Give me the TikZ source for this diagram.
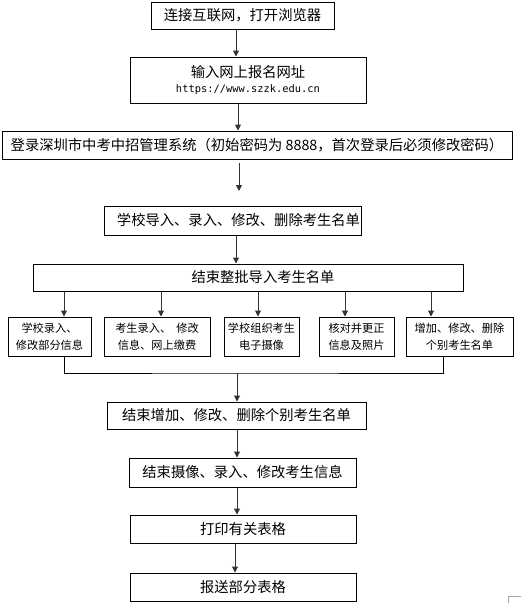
\documentclass[tikz,border=0pt]{standalone}
\usepackage{fontspec}
\setmainfont{Noto Sans CJK SC}
\newfontfamily\urlfont{DejaVu Sans Mono}
\usetikzlibrary{arrows.meta}
\tikzset{
  box/.style={draw=black, line width=1pt, inner sep=0pt, align=center, font=\fontsize{14.3}{17}\selectfont},
  sbox/.style={draw=black, line width=1pt, inner sep=0pt, align=center, font=\fontsize{11.2}{17}\selectfont},
  arr/.style={draw=black!80, line width=1pt, -{Triangle[length=6pt,width=6pt]}},
  ln/.style={draw=black, line width=1pt},
}
\begin{document}
\begin{tikzpicture}[x=1pt,y=-1pt]
\useasboundingbox (0,0) rectangle (521,603);
\fill[white] (0,0) rectangle (521,603);
% main boxes
\node[box, minimum width=183pt, minimum height=27pt] (n1) at (242.5,15.5) {连接互联网，打开浏览器};
\node[box, minimum width=236pt, minimum height=46pt] (n2) at (248,80) {输入网上报名网址\\[-2pt]{\urlfont\fontsize{10.4}{12}\selectfont https://www.szzk.edu.cn}};
\node[box, minimum width=510pt, minimum height=28pt] (n3) at (257,145) {登录深圳市中考中招管理系统（初始密码为 8888，首次登录后必须修改密码）};
\node[box, minimum width=257pt, minimum height=29pt] (n4) at (232.5,220.5) {\hspace*{12pt}学校导入、录入、修改、删除考生名单};
\node[box, minimum width=430pt, minimum height=27pt] (n5) at (248,277.5) {\hspace*{30pt}结束整批导入考生名单};
% small boxes
\node[sbox, minimum width=83pt, minimum height=39pt] (b1) at (49.5,336.5) {学校录入、\\修改部分信息};
\node[sbox, minimum width=106pt, minimum height=39pt] (b2) at (157,336.5) {考生录入、\ \ 修改\\信息、网上缴费};
\node[sbox, minimum width=75pt, minimum height=39pt] (b3) at (261.5,336.5) {学校组织考生\\电子摄像};
\node[sbox, minimum width=75pt, minimum height=39pt] (b4) at (356.5,336.5) {核对并更正\\信息及照片};
\node[sbox, minimum width=107pt, minimum height=39pt] (b5) at (459.5,336.5) {增加、修改、删除\\个别考生名单};
% lower boxes
\node[box, minimum width=259pt, minimum height=27pt] (n6) at (236.5,415.5) {结束增加、修改、删除个别考生名单};
\node[box, minimum width=227pt, minimum height=29pt] (n7) at (242.5,472.5) {结束摄像、录入、修改考生信息};
\node[box, minimum width=226pt, minimum height=28pt] (n8) at (243,529) {打印有关表格};
\node[box, minimum width=226pt, minimum height=28pt] (n9) at (243,587) {报送部分表格};
% x reference coordinates
\coordinate (x64) at (64,0);
\coordinate (x161) at (161,0);
\coordinate (x258) at (258,0);
\coordinate (x345) at (345,0);
\coordinate (x431) at (431,0);
\coordinate (x443) at (443,0);
\coordinate (x236) at (236,0);
\coordinate (x238) at (238,0);
\coordinate (x235) at (235,0);
\coordinate (a3s) at (239,163);
\coordinate (a3e) at (239,191);
\coordinate (m) at (237,373);
% connectors
\draw[arr] (n1.south -| x236) -- (n2.north -| x236);
\draw[arr] (n2.south -| x238) -- (n3.north -| x238);
\draw[arr] (a3s) -- (a3e);
\draw[arr] (n4.south -| x236) -- (n5.north -| x236);
\draw[arr] (n5.south -| x64) -- (b1.north -| x64);
\draw[arr] (n5.south -| x161) -- (b2.north -| x161);
\draw[arr] (n5.south -| x258) -- (b3.north -| x258);
\draw[arr] (n5.south -| x345) -- (b4.north -| x345);
\draw[arr] (n5.south -| x431) -- (b5.north -| x431);
\draw[ln] (b1.south -| x64) |- (m) -| (b5.south -| x443);
\draw[arr] (m) -- (n6.north -| m);
\draw[arr] (n6.south -| m) -- (n7.north -| m);
\draw[arr] (n7.south -| m) -- (n8.north -| m);
\draw[arr] (n8.south -| x235) -- (n9.north -| x235);
% page corner mark
\draw[black!35, line width=0.8pt] (508,603) -- (508,596) -- (521,596);
\end{tikzpicture}
\end{document}
